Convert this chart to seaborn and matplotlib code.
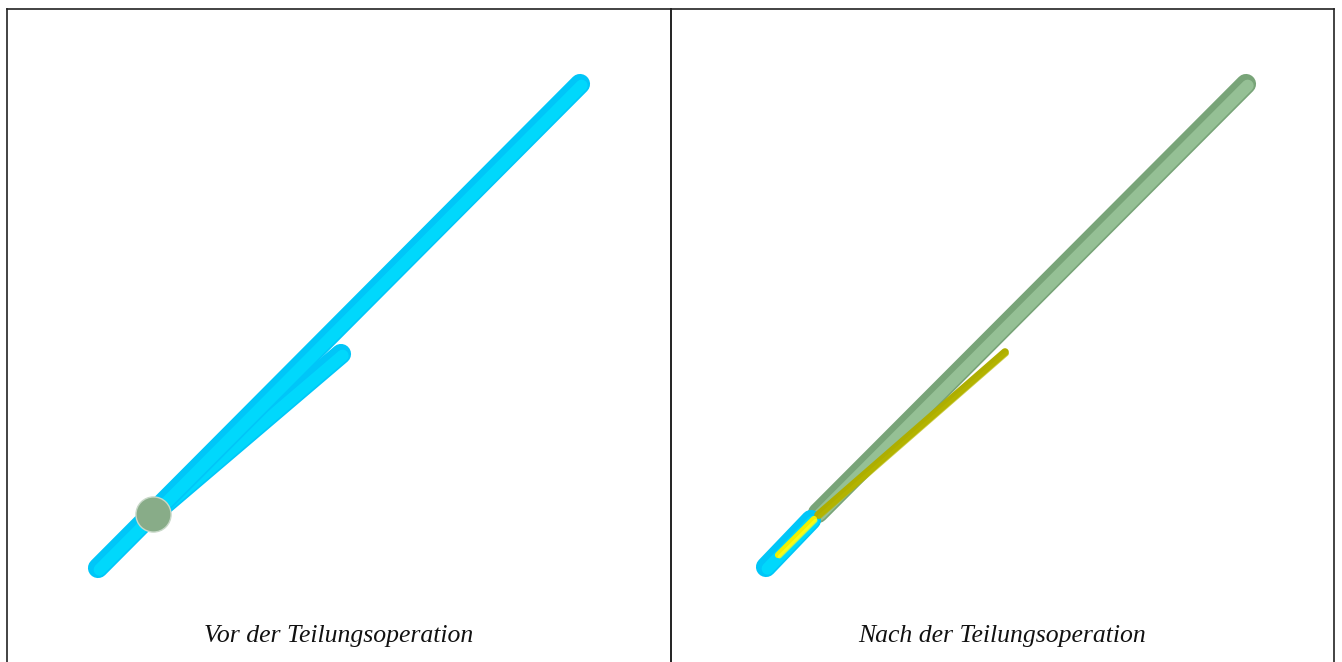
import matplotlib
matplotlib.use("Agg")
import matplotlib.pyplot as plt
import matplotlib.patheffects as pe
import pandas as pd
import seaborn as sns

sns.set_style("white")
plt.rcParams["font.family"] = ["Liberation Serif", "DejaVu Serif"]

# captions under each panel
captions = ["Vor der Teilungsoperation", "Nach der Teilungsoperation"]

# segment end points (picture coordinates, y grows downward)
# left panel: long tube, short branch, and the joint sphere
left_long_x = [98, 580]
left_long_y = [568, 84]
left_branch_x = [152, 341]
left_branch_y = [515, 354]
left_joint_x = [153]
left_joint_y = [514]

# right panel: remaining cyan stub, new green tube, new olive branch, yellow core
right_stub_x = [766, 811]
right_stub_y = [567, 520]
right_long_x = [818, 1246]
right_long_y = [513, 84]
right_branch_x = [818, 1005]
right_branch_y = [515, 352]
right_core_x = [778, 814]
right_core_y = [555, 519]


def tube(ax, xs, ys, base, light, lw, cap="round"):
    df = pd.DataFrame({"x": xs, "y": ys})
    ln = sns.lineplot(data=df, x="x", y="y", ax=ax, color=base, linewidth=lw,
                      sort=False, estimator=None)
    line = ln.lines[-1]
    line.set_solid_capstyle(cap)
    line.set_path_effects([
        pe.Stroke(linewidth=lw, foreground=base),
        pe.Stroke(linewidth=lw * 0.6, foreground=light, offset=(1.2, -1.2), alpha=0.7),
    ])


fig = plt.figure(figsize=(13.42, 6.62), dpi=100)
W, H = 1342, 662
ax_l = fig.add_axes([7 / W, 0, (671 - 7) / W, (H - 9) / H])
ax_r = fig.add_axes([671 / W, 0, (1334 - 671) / W, (H - 9) / H])

for ax, (x0, x1) in zip([ax_l, ax_r], [(7, 671), (671, 1334)]):
    ax.set_xlim(x0, x1)
    ax.set_ylim(H, 9)
    ax.set_xticks([])
    ax.set_yticks([])
    ax.set_xlabel("")
    ax.set_ylabel("")
    for side in ["top", "left", "right"]:
        ax.spines[side].set_visible(True)
        ax.spines[side].set_color("#222222")
        ax.spines[side].set_linewidth(1.2)
    ax.spines["bottom"].set_visible(False)
    ax.patch.set_alpha(0)

# left panel
tube(ax_l, left_branch_x, left_branch_y, "#00C6F8", "#00E0FF", 14.5)
tube(ax_l, left_long_x, left_long_y, "#00C6F8", "#00E0FF", 14.5)
sns.scatterplot(x=left_joint_x, y=left_joint_y, ax=ax_l, s=640,
                color="#88AC88", edgecolor="#C8D8C8", linewidth=1, zorder=5)

# right panel
tube(ax_r, right_long_x, right_long_y, "#78A478", "#A2CCA2", 14.5)
tube(ax_r, right_stub_x, right_stub_y, "#00C6F8", "#00E0FF", 14.5)
tube(ax_r, right_branch_x, right_branch_y, "#AEAE00", "#B6B600", 5.5)
tube(ax_r, right_core_x, right_core_y, "#F0F000", "#FFFF20", 4.5)

for ax, cap in zip([ax_l, ax_r], captions):
    ax.text(0.5, 0.04, cap, transform=ax.transAxes, ha="center", va="center",
            fontsize=18.5, fontstyle="italic", color="#111111")

fig.savefig("out.png", dpi=100)
